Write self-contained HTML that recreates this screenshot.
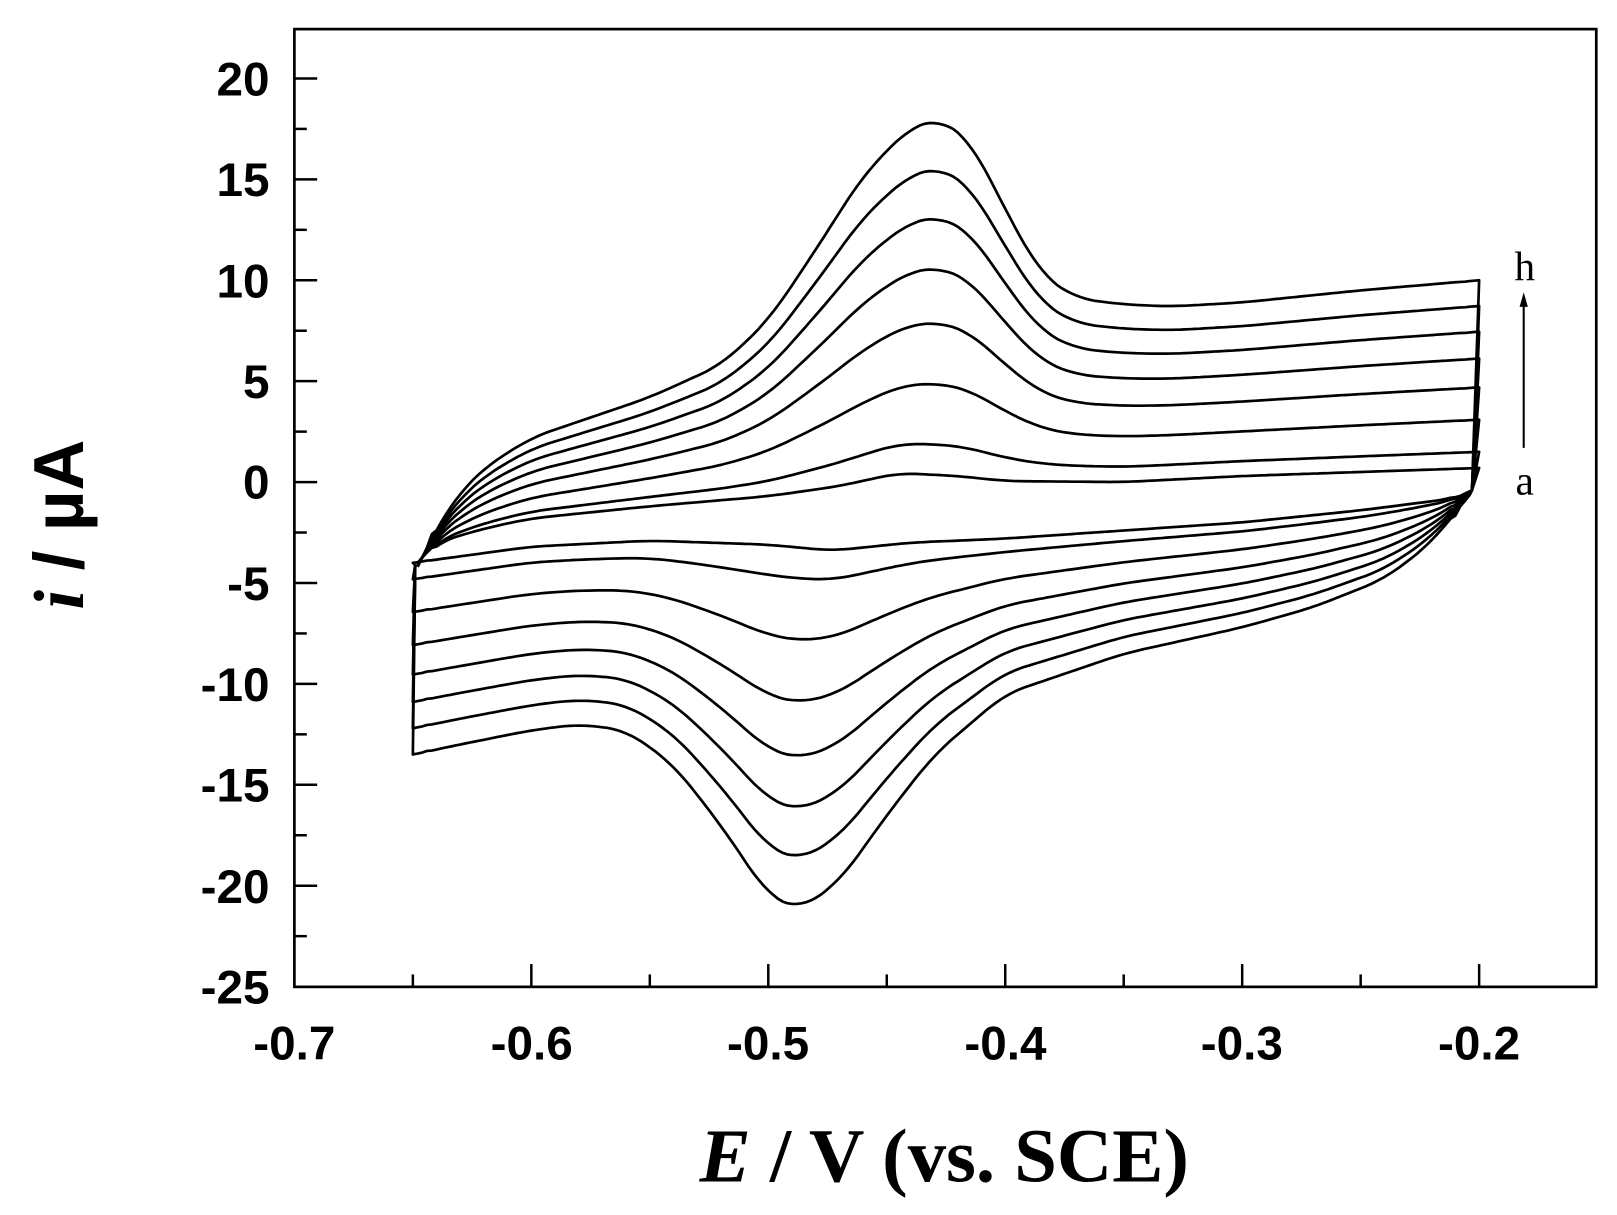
<!DOCTYPE html>
<html><head><meta charset="utf-8"><style>html,body{margin:0;padding:0;background:#fff}svg{display:block}</style></head>
<body>
<svg id="s" width="1617" height="1215" viewBox="0 0 1560 1172" xmlns="http://www.w3.org/2000/svg">
<rect x="0" y="0" width="1560" height="1172" fill="#fff"/>
<g id="curves" fill="none" stroke="#000" stroke-width="2.6" stroke-linejoin="round"></g>
<rect x="284" y="28" width="1256" height="924" fill="none" stroke="#000" stroke-width="2.6"/>
<g id="ticks" stroke="#000" stroke-width="2.4"></g>
<g font-family="Liberation Sans, sans-serif" font-weight="bold" font-size="46" text-anchor="end" fill="#000">
<text x="260" y="92">20</text><text x="260" y="189">15</text><text x="260" y="287">10</text>
<text x="260" y="384">5</text><text x="260" y="481">0</text><text x="260" y="579">-5</text>
<text x="260" y="676">-10</text><text x="260" y="773">-15</text><text x="260" y="871">-20</text>
<text x="260" y="968">-25</text>
</g>
<g font-family="Liberation Sans, sans-serif" font-weight="bold" font-size="46" text-anchor="middle" fill="#000">
<text x="284" y="1022">-0.7</text><text x="513" y="1022">-0.6</text><text x="741" y="1022">-0.5</text>
<text x="970" y="1022">-0.4</text><text x="1198" y="1022">-0.3</text><text x="1427" y="1022">-0.2</text>
</g>
<text transform="translate(80,506) rotate(-90)" text-anchor="middle" font-size="68" font-weight="bold" fill="#000"><tspan font-family="Liberation Serif, serif" font-style="italic">i</tspan><tspan font-family="Liberation Sans, sans-serif"> / µA</tspan></text>
<text x="911" y="1140" text-anchor="middle" font-family="Liberation Serif, serif" font-size="74" font-weight="bold" fill="#000"><tspan font-style="italic">E</tspan> / V (vs. SCE)</text>
<text x="1471" y="270" text-anchor="middle" font-family="Liberation Serif, serif" font-size="40" fill="#000">h</text>
<text x="1471" y="477" text-anchor="middle" font-family="Liberation Serif, serif" font-size="40" fill="#000">a</text>
<line x1="1470" y1="432" x2="1470" y2="292" stroke="#000" stroke-width="2"/>
<polygon points="1470,282 1466,296 1474,296" fill="#000"/>
</svg>
<script>
const X=x=>284+(x+0.7)*2286, Y=y=>465-y*19.47;
const ns="http://www.w3.org/2000/svg";
const tk=document.getElementById('ticks');
function ln(x1,y1,x2,y2){const l=document.createElementNS(ns,'line');l.setAttribute('x1',x1);l.setAttribute('y1',y1);l.setAttribute('x2',x2);l.setAttribute('y2',y2);tk.appendChild(l);}
for(let v=-25;v<=22.5;v+=2.5){const y=Y(v);if(y<30||y>950)continue;ln(284,y,284+(v%5==0?22:12),y);}
for(let i=1;i<11;i++){const x=X(-0.7+i*0.05);ln(x,952,x,952-(i%2==0?22:12));}
const upA=[[-0.648,-4.0],[-0.645,-3.6],[-0.64,-3.0],[-0.62,-2.3],[-0.60,-1.8],[-0.55,-1.2],[-0.50,-0.7],[-0.47,-0.2],[-0.445,0.45],[-0.42,0.3],[-0.40,0.05],[-0.35,0.0],[-0.30,0.3],[-0.25,0.5],[-0.2,0.7]];
const upH=[[-0.648,-4.2],[-0.645,-3.5],[-0.64,-2.2],[-0.63,-0.5],[-0.62,0.7],[-0.60,2.2],[-0.58,3.0],[-0.55,4.2],[-0.52,5.8],[-0.50,8.0],[-0.48,11.5],[-0.46,15.2],[-0.44,17.6],[-0.428,18.0],[-0.415,17.0],[-0.40,13.5],[-0.385,10.3],[-0.37,9.1],[-0.35,8.8],[-0.33,8.7],[-0.30,8.9],[-0.25,9.5],[-0.2,10.0]];
const loA=[[-0.203,-0.4],[-0.21,-0.8],[-0.25,-1.4],[-0.30,-2.0],[-0.35,-2.4],[-0.40,-2.8],[-0.44,-3.0],[-0.473,-3.4],[-0.50,-3.1],[-0.55,-2.9],[-0.60,-3.2],[-0.65,-4.0]];
const loH=[[-0.203,-0.5],[-0.21,-1.5],[-0.22,-3.0],[-0.24,-4.8],[-0.27,-6.2],[-0.30,-7.2],[-0.35,-8.5],[-0.40,-10.5],[-0.43,-13.5],[-0.45,-16.5],[-0.47,-19.8],[-0.487,-21.2],[-0.50,-20.5],[-0.52,-17.0],[-0.54,-14.0],[-0.56,-12.3],[-0.58,-12.0],[-0.60,-12.3],[-0.63,-13.0],[-0.65,-13.5]];
function interp(p,x){const q=p[0][0]<p[p.length-1][0]?p:p.slice().reverse();if(x<=q[0][0])return q[0][1];for(let i=1;i<q.length;i++){if(x<=q[i][0]){const t=(x-q[i-1][0])/(q[i][0]-q[i-1][0]);return q[i-1][1]+t*(q[i][1]-q[i-1][1]);}}return q[q.length-1][1];}
function smooth(a,w){return a.map((v,i)=>{if(i<3||i>a.length-4)return v;let s=0,n=0;for(let j=-w;j<=w;j++){const k=i+j;if(k>=0&&k<a.length){s+=a[k];n++;}}return s/n;});}
function grid(x0,x1,st){const g=[];for(let x=x0;x<=x1+1e-9;x+=st)g.push(x);return g;}
const ts=[0,.086,.257,.429,.583,.726,.863,1];
const g=document.getElementById('curves');
const gu=grid(-0.648,-0.2,0.002), gl=grid(-0.65,-0.203,0.002).reverse();
for(const t of ts){
 let u=smooth(gu.map(x=>interp(upA,x)*(1-t)+interp(upH,x)*t),4);
 let l=smooth(gl.map(x=>interp(loA,x)*(1-t)+interp(loH,x)*t),4);
 let pts=[];
 gu.forEach((x,i)=>pts.push(X(x).toFixed(1)+','+Y(u[i]).toFixed(1)));
 pts.push(X(-0.203).toFixed(1)+','+Y(-0.4).toFixed(1));
 gl.forEach((x,i)=>pts.push(X(x).toFixed(1)+','+Y(l[i]).toFixed(1)));
 pts.push(X(-0.649).toFixed(1)+','+Y(-4.1).toFixed(1));
 const p=document.createElementNS(ns,'polyline');p.setAttribute('points',pts.join(' '));g.appendChild(p);
}
</script>
</body></html>
